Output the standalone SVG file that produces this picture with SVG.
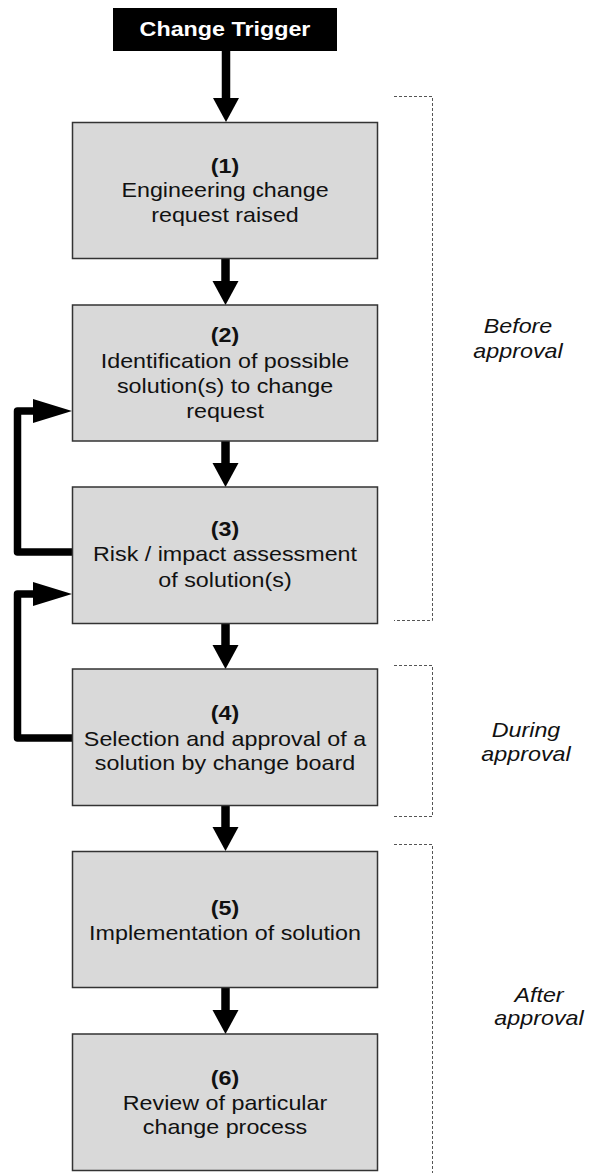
<svg xmlns="http://www.w3.org/2000/svg" width="589" height="1173" viewBox="0 0 589 1173">
  <style>
    .box { fill: #d9d9d9; stroke: #333333; stroke-width: 1.5; }
    .trig { fill: #000000; }
    .t { font-family: "Liberation Sans", Arial, sans-serif; font-size: 20px; fill: #111111; text-anchor: middle; }
    .b { font-weight: bold; }
    .w { fill: #ffffff; }
    .i { font-style: italic; }
    .down { fill: none; stroke: #000000; stroke-width: 8.5; stroke-linecap: round; marker-end: url(#headDown); }
    .loop { fill: none; stroke: #000000; stroke-width: 7.5; stroke-linecap: round; stroke-linejoin: round; marker-end: url(#headSide); }
    .brk { fill: none; stroke: #555555; stroke-width: 1; stroke-dasharray: 3 2; }
  </style>
  <defs>
    <marker id="headDown" markerUnits="userSpaceOnUse" markerWidth="26" markerHeight="26" refX="0" refY="13" orient="auto" overflow="visible">
      <path d="M0,0 L24,13 L0,26 Z" fill="#000000"/>
    </marker>
    <marker id="headSide" markerUnits="userSpaceOnUse" markerWidth="40" markerHeight="24" refX="0" refY="12" orient="auto" overflow="visible">
      <path d="M0,0 L39,12 L0,24 Z" fill="#000000"/>
    </marker>
  </defs>

  <g id="connectors">
    <path class="down" d="M226,51 V98"/>
    <path class="down" d="M225.5,258 V281"/>
    <path class="down" d="M225.5,441 V463"/>
    <path class="down" d="M225.5,623 V645"/>
    <path class="down" d="M225.5,805 V827"/>
    <path class="down" d="M225.5,987 V1010"/>
    <path class="loop" d="M72,552 H17.5 V411 H33"/>
    <path class="loop" d="M72,738 H17.5 V594 H33"/>
  </g>

  <g id="trigger">
    <rect class="trig" x="113" y="8" width="224" height="43"/>
    <g transform="translate(225 0) scale(1.165 1)">
      <text class="t b w" x="0" y="36">Change Trigger</text>
    </g>
  </g>

  <g id="step1">
    <rect class="box" x="72.5" y="122.5" width="305" height="136"/>
    <g transform="translate(225 0) scale(1.165 1)">
      <text class="t b" x="0" y="173">(1)</text>
      <text class="t" x="0" y="197.5">Engineering change</text>
      <text class="t" x="0" y="222">request raised</text>
    </g>
  </g>

  <g id="step2">
    <rect class="box" x="72.5" y="305" width="305" height="136"/>
    <g transform="translate(225 0) scale(1.165 1)">
      <text class="t b" x="0" y="342">(2)</text>
      <text class="t" x="0" y="368">Identification of possible</text>
      <text class="t" x="0" y="393">solution(s) to change</text>
      <text class="t" x="0" y="418">request</text>
    </g>
  </g>

  <g id="step3">
    <rect class="box" x="72.5" y="487" width="305" height="136.5"/>
    <g transform="translate(225 0) scale(1.165 1)">
      <text class="t b" x="0" y="536">(3)</text>
      <text class="t" x="0" y="561.5">Risk / impact assessment</text>
      <text class="t" x="0" y="587">of solution(s)</text>
    </g>
  </g>

  <g id="step4">
    <rect class="box" x="72.5" y="669" width="305" height="136.5"/>
    <g transform="translate(225 0) scale(1.165 1)">
      <text class="t b" x="0" y="720">(4)</text>
      <text class="t" x="0" y="746">Selection and approval of a</text>
      <text class="t" x="0" y="770">solution by change board</text>
    </g>
  </g>

  <g id="step5">
    <rect class="box" x="72.5" y="851.5" width="305" height="136"/>
    <g transform="translate(225 0) scale(1.165 1)">
      <text class="t b" x="0" y="915">(5)</text>
      <text class="t" x="0" y="940">Implementation of solution</text>
    </g>
  </g>

  <g id="step6">
    <rect class="box" x="72.5" y="1034" width="305" height="136.5"/>
    <g transform="translate(225 0) scale(1.165 1)">
      <text class="t b" x="0" y="1085">(6)</text>
      <text class="t" x="0" y="1110">Review of particular</text>
      <text class="t" x="0" y="1134">change process</text>
    </g>
  </g>

  <g id="phase-before">
    <path class="brk" d="M394,96.5 H432.5 V620.5 H394"/>
    <g transform="translate(518 0) scale(1.165 1)">
      <text class="t i" x="0" y="333">Before</text>
      <text class="t i" x="0" y="358">approval</text>
    </g>
  </g>

  <g id="phase-during">
    <path class="brk" d="M394,665.5 H432.5 V816.5 H394"/>
    <g transform="translate(526 0) scale(1.165 1)">
      <text class="t i" x="0" y="737">During</text>
      <text class="t i" x="0" y="761">approval</text>
    </g>
  </g>

  <g id="phase-after">
    <path class="brk" d="M394,844.5 H432.5 V1173"/>
    <g transform="translate(539 0) scale(1.165 1)">
      <text class="t i" x="0" y="1002">After</text>
      <text class="t i" x="0" y="1025">approval</text>
    </g>
  </g>
</svg>
